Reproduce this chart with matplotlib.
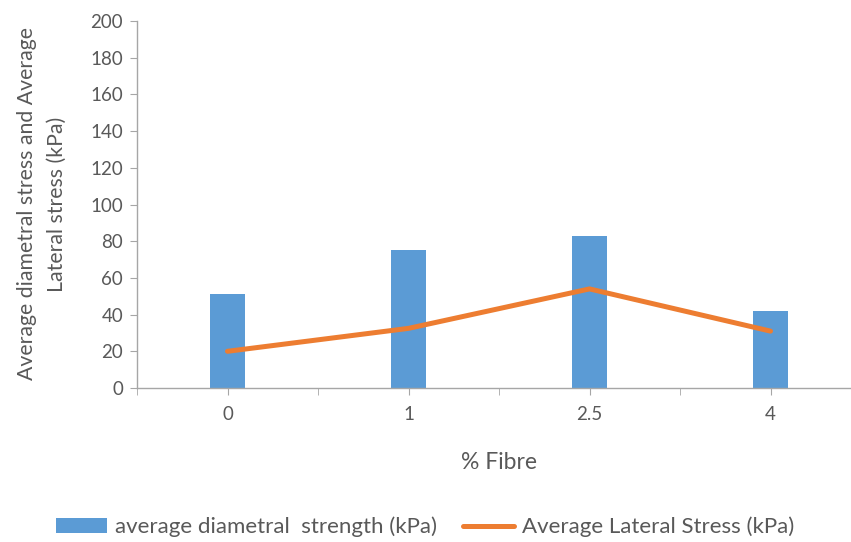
import matplotlib
matplotlib.use("Agg")
import matplotlib.pyplot as plt
import numpy as np
from matplotlib.patches import Patch
from matplotlib.lines import Line2D

categories = ["0", "1", "2.5", "4"]
diametral_strength = [51, 75, 83, 42]
lateral_stress = [20, 32.5, 54, 31]
y_ticks = [0, 20, 40, 60, 80, 100, 120, 140, 160, 180, 200]

plt.rcParams['font.family'] = ['Lato', 'DejaVu Sans']

W, H = 851, 542
fig = plt.figure(figsize=(W / 100, H / 100), dpi=100)
ax = fig.add_axes([137 / W, 1 - 388 / H, 724 / W, 367 / H])

x = np.arange(len(categories))
blue = "#5B9BD5"
orange = "#ED7D31"
axis_col = "#A6A6A6"
text_col = "#595959"

ax.bar(x, diametral_strength, width=0.19, color=blue, zorder=2)
ax.plot(x, lateral_stress, color=orange, linewidth=3.6, solid_capstyle='round', zorder=3)

ax.set_xlim(-0.5, len(categories) - 0.5)
ax.set_ylim(0, 200)
ax.set_yticks(y_ticks)
ax.set_xticks(x)
ax.set_xticklabels(categories)
ax.set_xticks(np.arange(-0.5, len(categories), 1.0), minor=True)

for s in ['top', 'right']:
    ax.spines[s].set_visible(False)
for s in ['left', 'bottom']:
    ax.spines[s].set_color(axis_col)
    ax.spines[s].set_linewidth(1.0)

ax.tick_params(axis='both', which='both', direction='out', length=5, color=axis_col,
               labelcolor=text_col, labelsize=13.5)
ax.tick_params(axis='y', pad=5)
ax.tick_params(axis='x', pad=8)

ax.set_xlabel("% Fibre", fontsize=16.5, color=text_col, labelpad=21)
fig.text(42 / W, 1 - 204 / H, "Average diametral stress and Average\nLateral stress (kPa)",
         rotation=90, ha='center', va='center', fontsize=15.3, color=text_col,
         multialignment='center', linespacing=1.6)

handles = [Patch(facecolor=blue, edgecolor='none'),
           Line2D([0], [0], color=orange, linewidth=3.6, solid_capstyle='round')]
labels = ["average diametral  strength (kPa)", "Average Lateral Stress (kPa)"]
leg = fig.legend(handles, labels, ncol=2, loc='center', bbox_to_anchor=(425 / W, 1 - 527 / H),
                 frameon=False, fontsize=16, handlelength=2.3, handleheight=0.7,
                 handletextpad=0.35, columnspacing=1.2)
for t in leg.get_texts():
    t.set_color(text_col)

fig.savefig("out.png", dpi=100)
